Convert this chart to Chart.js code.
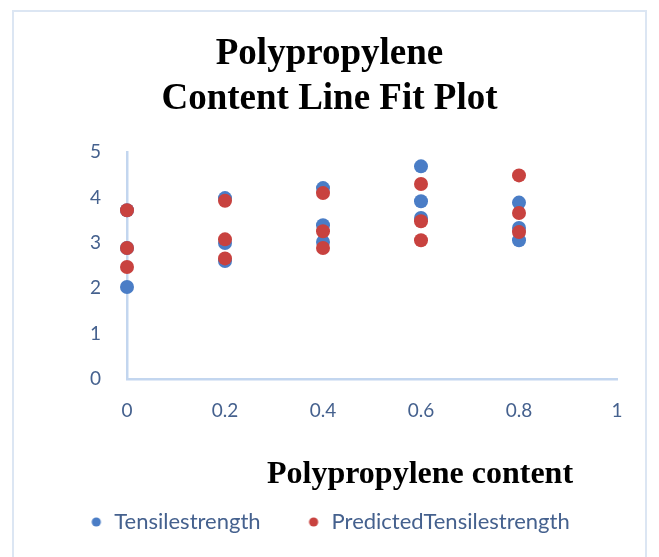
<!DOCTYPE html>
<html>
<head>
<meta charset="utf-8">
<script src="https://cdn.jsdelivr.net/npm/chart.js@4/dist/chart.umd.min.js"></script>
<style>
  html, body { margin: 0; padding: 0; background: #ffffff; }
  canvas { display: block; }
</style>
</head>
<body>
<canvas id="fitPlot" width="659" height="557"></canvas>
<script>
// Polypropylene content (fraction) for each specimen
const contentX = [0, 0, 0, 0.2, 0.2, 0.2, 0.4, 0.4, 0.4, 0.6, 0.6, 0.6, 0.8, 0.8, 0.8];
// Measured tensile strength
const tensileStrength = [3.72, 2.89, 2.03, 3.99, 3.00, 2.60, 4.21, 3.39, 3.02, 4.69, 3.92, 3.55, 3.89, 3.33, 3.06];
// Regression-predicted tensile strength
const predictedStrength = [3.72, 2.89, 2.47, 3.93, 3.08, 2.66, 4.10, 3.26, 2.89, 4.30, 3.48, 3.06, 4.49, 3.66, 3.24];

const xTickValues = [0, 0.2, 0.4, 0.6, 0.8, 1];
const yTickValues = [0, 1, 2, 3, 4, 5];

const seriesNames = ['Tensilestrength', 'PredictedTensilestrength'];
const chartTitle = ['Polypropylene', 'Content Line Fit Plot'];
const xAxisTitle = 'Polypropylene content';

const BLUE = '#4A7DC6';
const RED = '#C8423F';
const AXIS_TEXT = '#45618E';
const AXIS_LINE = '#C3D6EF';

function toPoints(xs, ys) {
  return xs.map((x, i) => ({ x: x, y: ys[i] }));
}

function plainNumber(v) {
  return String(Number(v.toFixed(2)));
}

// small round marker used as the legend symbol
function legendDot(color, r) {
  const c = document.createElement('canvas');
  c.width = c.height = Math.ceil(2 * r + 2);
  const g = c.getContext('2d');
  g.fillStyle = color;
  g.beginPath();
  g.arc(c.width / 2, c.height / 2, r, 0, Math.PI * 2);
  g.fill();
  return c;
}

// white page with a thin light frame round the chart
const framePlugin = {
  id: 'frame',
  beforeDraw(chart) {
    const ctx = chart.ctx;
    ctx.save();
    ctx.fillStyle = '#ffffff';
    ctx.fillRect(0, 0, chart.width, chart.height);
    ctx.strokeStyle = '#DCE6F3';
    ctx.lineWidth = 2;
    ctx.strokeRect(13, 11, 633, chart.height + 10);
    ctx.restore();
  }
};

// x-axis caption, set right of centre below the tick labels
const xCaptionPlugin = {
  id: 'xCaption',
  afterDraw(chart) {
    const { ctx, chartArea } = chart;
    ctx.save();
    ctx.font = 'bold 32px "Liberation Serif"';
    ctx.fillStyle = '#000000';
    ctx.textAlign = 'center';
    ctx.textBaseline = 'alphabetic';
    ctx.fillText(xAxisTitle, chartArea.left + chartArea.width * 0.598, chartArea.bottom + 104);
    ctx.restore();
  }
};

new Chart(document.getElementById('fitPlot'), {
  type: 'scatter',
  data: {
    datasets: [
      {
        label: seriesNames[0],
        data: toPoints(contentX, tensileStrength),
        backgroundColor: BLUE,
        borderWidth: 0,
        pointRadius: 7,
        pointHoverRadius: 7,
        order: 1,
        clip: false
      },
      {
        label: seriesNames[1],
        data: toPoints(contentX, predictedStrength),
        backgroundColor: RED,
        borderWidth: 0,
        pointRadius: 7,
        pointHoverRadius: 7,
        order: 0,
        clip: false
      }
    ]
  },
  options: {
    responsive: false,
    animation: false,
    layout: { padding: { top: 0, right: 0, bottom: 14, left: 0 } },
    scales: {
      x: {
        type: 'linear',
        min: 0,
        max: 1,
        afterBuildTicks(scale) { scale.ticks = xTickValues.map(v => ({ value: v })); },
        afterFit(scale) { scale.height = 86; },
        grid: { display: true, drawOnChartArea: false, drawTicks: false, color: 'rgba(0,0,0,0)' },
        border: { display: true, color: AXIS_LINE, width: 2.5 },
        ticks: {
          padding: 20,
          color: AXIS_TEXT,
          font: { family: 'Lato', size: 19 },
          maxRotation: 0,
          callback: plainNumber
        }
      },
      y: {
        type: 'linear',
        min: 0,
        max: 5,
        afterBuildTicks(scale) { scale.ticks = yTickValues.map(v => ({ value: v })); },
        afterFit(scale) { scale.width = 127; },
        grid: { display: true, drawOnChartArea: false, drawTicks: false, color: 'rgba(0,0,0,0)' },
        border: { display: true, color: AXIS_LINE, width: 2.5 },
        ticks: {
          padding: 26,
          color: AXIS_TEXT,
          font: { family: 'Lato', size: 19 },
          callback: plainNumber
        }
      },
      // empty right-hand margin strip so title and legend stay centred on the page
      margin: {
        type: 'linear',
        position: 'right',
        display: true,
        afterFit(scale) { scale.width = 42; },
        grid: { display: false },
        border: { display: false },
        ticks: { display: false }
      }
    },
    plugins: {
      title: {
        display: true,
        text: chartTitle,
        color: '#000000',
        font: { family: 'Liberation Serif', size: 37, weight: 'bold', lineHeight: 1.22 },
        padding: { top: 32, bottom: 30 }
      },
      legend: {
        display: true,
        position: 'bottom',
        labels: {
          usePointStyle: true,
          pointStyleWidth: 14,
          padding: 46,
          color: AXIS_TEXT,
          font: { family: 'Lato', size: 22 },
          sort: (a, b) => a.datasetIndex - b.datasetIndex,
          generateLabels(chart) {
            const items = Chart.defaults.plugins.legend.labels.generateLabels(chart);
            return items.map(it => {
              const ds = chart.data.datasets[it.datasetIndex];
              it.pointStyle = legendDot(ds.backgroundColor, 4.6);
              return it;
            });
          }
        }
      },
      tooltip: { enabled: false }
    }
  },
  plugins: [framePlugin, xCaptionPlugin]
});
</script>
</body>
</html>
